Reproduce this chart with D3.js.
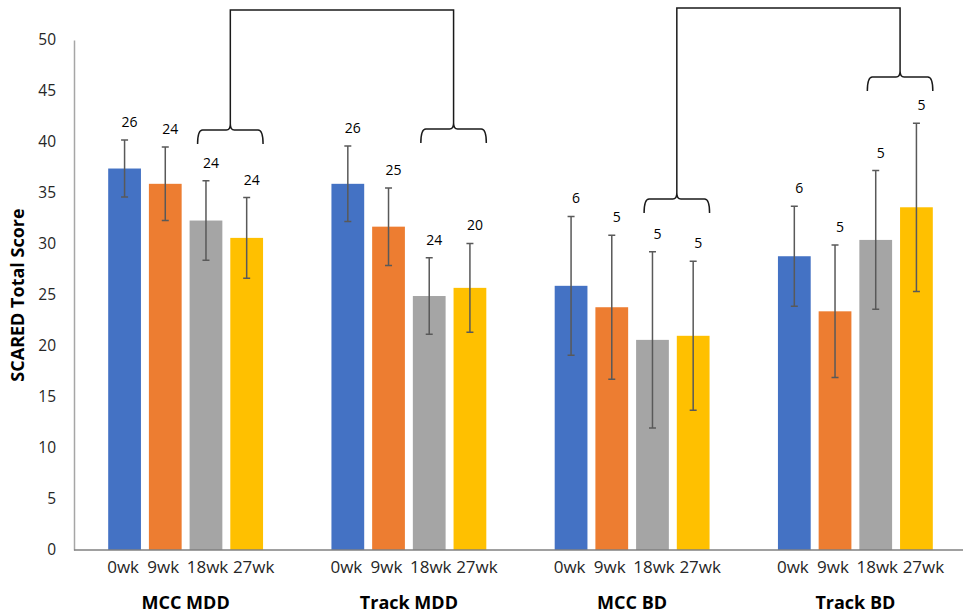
<!DOCTYPE html>
<html>
<head>
<meta charset="utf-8">
<script src="https://cdn.jsdelivr.net/npm/d3@7"></script>
<style>
  html, body { margin: 0; padding: 0; background: #fff; }
  svg { display: block; font-family: "Open Sans", "Noto Sans", sans-serif; }
</style>
</head>
<body>
<svg id="chart" width="963" height="616"></svg>
<script>
// SCARED total score by group and time point (mean ± error, n above each bar)
const groups = ["MCC MDD", "Track MDD", "MCC BD", "Track BD"];
const timepoints = ["0wk", "9wk", "18wk", "27wk"];
const seriesColors = ["#4472C4", "#ED7D31", "#A5A5A5", "#FFC000"];

const means = [
  [37.4, 35.9, 32.3, 30.6],
  [35.9, 31.7, 24.9, 25.7],
  [25.9, 23.8, 20.6, 21.0],
  [28.8, 23.4, 30.4, 33.6]
];
const errors = [
  [2.8, 3.6, 3.9, 3.95],
  [3.7, 3.8, 3.75, 4.35],
  [6.8, 7.05, 8.65, 7.3],
  [4.9, 6.5, 6.8, 8.25]
];
const counts = [
  [26, 24, 24, 24],
  [26, 25, 24, 20],
  [6, 5, 5, 5],
  [6, 5, 5, 5]
];
const yTicks = [0, 5, 10, 15, 20, 25, 30, 35, 40, 45, 50];

const svg = d3.select("#chart");

const x0 = d3.scaleBand().domain(groups).range([74, 967]).paddingInner(0).paddingOuter(0);
const x1 = d3.scaleBand().domain(timepoints).range([0, x0.bandwidth()])
  .paddingInner(8 / 41).paddingOuter(0.84);
const y = d3.scaleLinear().domain([0, 50]).range([550, 40]);

// y axis
const yAxis = svg.append("g").attr("transform", "translate(74,0)")
  .call(d3.axisLeft(y).tickValues(yTicks).tickSize(0).tickPadding(18));
yAxis.select(".domain").attr("stroke", "#A6A6A6").attr("stroke-width", 1.5);
yAxis.selectAll("text").attr("font-size", 15.5).attr("fill", "#262626")
  .attr("font-family", "Open Sans, Noto Sans, sans-serif");

// y axis title
svg.append("text")
  .attr("transform", `translate(24,${(40 + 550) / 2}) rotate(-90)`)
  .attr("text-anchor", "middle")
  .attr("font-size", 18).attr("font-weight", "bold").attr("fill", "#000")
  .text("SCARED Total Score");

// bars
const rows = [];
groups.forEach((g, gi) => timepoints.forEach((t, ti) => rows.push({
  g, t, gi, ti, v: means[gi][ti], e: errors[gi][ti], n: counts[gi][ti]
})));

const barX = d => x0(d.g) + x1(d.t);
const barC = d => barX(d) + x1.bandwidth() / 2;

svg.append("g").selectAll("rect").data(rows).join("rect")
  .attr("x", barX).attr("width", x1.bandwidth())
  .attr("y", d => y(d.v)).attr("height", d => y(0) - y(d.v))
  .attr("fill", d => seriesColors[d.ti]);

// x axis baseline
svg.append("line").attr("x1", 74).attr("x2", 967).attr("y1", y(0)).attr("y2", y(0))
  .attr("stroke", "#808080").attr("stroke-width", 1.5);

// error bars
const eb = svg.append("g").attr("stroke", "#595959").attr("stroke-width", 1.5).attr("fill", "none");
eb.selectAll("path").data(rows).join("path")
  .attr("d", d => {
    const c = barC(d), t = y(d.v + d.e), b = y(d.v - d.e), w = 3.5;
    return `M${c},${t}V${b}M${c - w},${t}H${c + w}M${c - w},${b}H${c + w}`;
  });

// n labels
svg.append("g").selectAll("text").data(rows).join("text")
  .attr("x", d => barC(d) + 5).attr("y", d => y(d.v + d.e) - 13)
  .attr("text-anchor", "middle").attr("font-size", 14).attr("fill", "#000")
  .text(d => d.n);

// time point labels (slightly spread so the longer labels don't crowd)
const labelShift = [-1.5, -2, 1.5, 7];
svg.append("g").selectAll("text").data(rows).join("text")
  .attr("x", d => barC(d) + labelShift[d.ti]).attr("y", 573)
  .attr("text-anchor", "middle").attr("font-size", 17).attr("fill", "#262626")
  .text(d => d.t);

// group labels
svg.append("g").selectAll("text").data(groups).join("text")
  .attr("x", g => x0(g) + x0.bandwidth() / 2).attr("y", 609)
  .attr("text-anchor", "middle").attr("font-size", 18).attr("font-weight", "bold").attr("fill", "#000")
  .text(g => g);

// comparison braces over the 18wk–27wk bars, joined pairwise by a connector
const braceLevel = [130, 129, 199, 77];   // brace line height (px) per group
const connectors = [{ a: 0, b: 1, top: 10 }, { a: 2, b: 3, top: 8 }];

function braceGeom(gi) {
  const g = groups[gi];
  const left = x0(g) + x1("18wk") + 8;
  const right = x0(g) + x1("27wk") + x1.bandwidth();
  return { left, right, cx: (left + right) / 2, yb: braceLevel[gi] };
}
function bracePath(b) {
  const { left, right, cx, yb } = b;
  return `M${left},${yb + 14} Q${left},${yb} ${left + 5},${yb} L${cx - 4},${yb}` +
         ` Q${cx},${yb} ${cx},${yb - 6} Q${cx},${yb} ${cx + 4},${yb} L${right - 5},${yb}` +
         ` Q${right},${yb} ${right},${yb + 14}`;
}
const br = svg.append("g").attr("stroke", "#1a1a1a").attr("stroke-width", 1.5).attr("fill", "none");
groups.forEach((g, gi) => br.append("path").attr("d", bracePath(braceGeom(gi))));
connectors.forEach(c => {
  const A = braceGeom(c.a), B = braceGeom(c.b);
  br.append("path").attr("d",
    `M${A.cx},${A.yb - 6}V${c.top}H${B.cx}V${B.yb - 6}`);
});
</script>
</body>
</html>
